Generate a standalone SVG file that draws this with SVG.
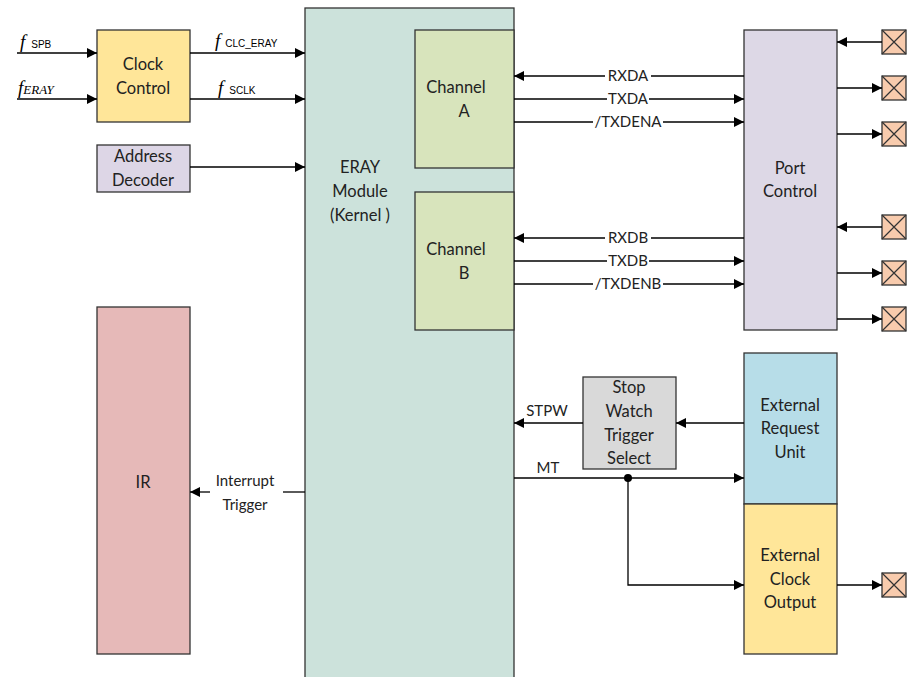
<svg xmlns="http://www.w3.org/2000/svg" width="912" height="677" viewBox="0 0 912 677">
<defs>
<marker id="ah" viewBox="0 0 10 10" refX="10" refY="5" markerWidth="10" markerHeight="10" markerUnits="userSpaceOnUse" orient="auto"><path d="M0,0 L10,5 L0,10 z" fill="#000"/></marker>
<g id="pin"><rect x="0" y="0" width="24" height="24" fill="#F8CBAD" stroke="#333" stroke-width="1.3"/><path d="M0,0 L24,24 M24,0 L0,24" stroke="#333" stroke-width="1.2"/></g>
</defs>
<style>
.box{stroke:#333;stroke-width:1.3}
.t{font-family:Lato,"Open Sans",sans-serif;font-size:16.5px;fill:#222;text-anchor:middle}
.l{font-family:Lato,"Open Sans",sans-serif;font-size:15px;fill:#222;text-anchor:middle}
.c{stroke:#000;stroke-width:1.3;fill:none}
.a{marker-end:url(#ah)}
.f{font-family:"Liberation Serif",serif;font-style:italic;font-size:19px;fill:#000}
.s{font-family:"Liberation Sans",sans-serif;font-size:10px;fill:#000}
.lbg{fill:#fff}
</style>
<rect width="912" height="677" fill="#fff"/>

<g id="eray"><rect class="box" x="305" y="8" width="209" height="680" fill="#CCE2DB"/>
<text class="t" x="360" y="173">ERAY</text><text class="t" x="360" y="197">Module</text><text class="t" x="360" y="221">(Kernel )</text></g>

<g id="chA"><rect class="box" x="415" y="30" width="99" height="138" fill="#D8E4BC"/>
<text class="t" x="456" y="93">Channel</text><text class="t" x="464" y="117">A</text></g>
<g id="chB"><rect class="box" x="415" y="192" width="99" height="138" fill="#D8E4BC"/>
<text class="t" x="456" y="255">Channel</text><text class="t" x="464" y="279">B</text></g>

<g id="clock"><rect class="box" x="97" y="30" width="93" height="92" fill="#FFE699"/>
<text class="t" x="143" y="70">Clock</text><text class="t" x="143" y="94">Control</text></g>
<g id="addr"><rect class="box" x="97" y="145" width="93" height="47" fill="#DDD6E6"/>
<text class="t" x="143" y="162">Address</text><text class="t" x="143" y="186">Decoder</text></g>

<g id="ir"><rect class="box" x="97" y="307" width="93" height="347" fill="#E6B9B8"/>
<text class="t" x="143" y="488">IR</text></g>

<g id="port"><rect class="box" x="744" y="30" width="93" height="300" fill="#DDD8E6"/>
<text class="t" x="790" y="174">Port</text><text class="t" x="790" y="197">Control</text></g>

<g id="eru"><rect class="box" x="744" y="353" width="93" height="151" fill="#B7DDE8"/>
<text class="t" x="790" y="411">External</text><text class="t" x="790" y="434">Request</text><text class="t" x="790" y="458">Unit</text></g>
<g id="eco"><rect class="box" x="744" y="504" width="93" height="150" fill="#FFE699"/>
<text class="t" x="790" y="561">External</text><text class="t" x="790" y="585">Clock</text><text class="t" x="790" y="608">Output</text></g>

<g id="stpw"><rect class="box" x="583" y="377" width="93" height="92" fill="#D9D9D9"/>
<text class="t" x="629" y="393">Stop</text><text class="t" x="629" y="417">Watch</text><text class="t" x="629" y="441">Trigger</text><text class="t" x="629" y="464">Select</text></g>

<g id="pins">
<use href="#pin" x="882" y="30"/><use href="#pin" x="882" y="76"/><use href="#pin" x="882" y="122"/>
<use href="#pin" x="882" y="215"/><use href="#pin" x="882" y="261"/><use href="#pin" x="882" y="307"/>
<use href="#pin" x="882" y="573"/>
</g>

<g id="connectors">
<path class="c a" d="M17,53 H97"/>
<path class="c a" d="M17,99 H97"/>
<path class="c a" d="M190,53 H305"/>
<path class="c a" d="M190,99 H305"/>
<path class="c a" d="M190,167 H305"/>
<path class="c a" d="M744,76 H514"/>
<path class="c a" d="M514,99 H744"/>
<path class="c a" d="M514,122 H744"/>
<path class="c a" d="M744,238 H514"/>
<path class="c a" d="M514,261 H744"/>
<path class="c a" d="M514,284 H744"/>
<path class="c a" d="M882,42 H837"/>
<path class="c a" d="M837,88 H882"/>
<path class="c a" d="M837,134 H882"/>
<path class="c a" d="M882,227 H837"/>
<path class="c a" d="M837,273 H882"/>
<path class="c a" d="M837,319 H882"/>
<path class="c a" d="M837,585 H882"/>
<path class="c a" d="M744,423 H676"/>
<path class="c a" d="M583,423 H514"/>
<path class="c a" d="M514,478 H744"/>
<path class="c a" d="M628,478 V585 H744"/>
<circle cx="628" cy="478" r="4" fill="#000"/>
<path class="c" d="M305,492 H283"/>
<path class="c a" d="M210,492 H190"/>
<rect class="lbg" x="605" y="67" width="46" height="18"/>
<text class="l" x="628" y="81">RXDA</text>
<rect class="lbg" x="607" y="90" width="42" height="18"/>
<text class="l" x="628" y="104">TXDA</text>
<rect class="lbg" x="593" y="113" width="70" height="18"/>
<text class="l" x="628" y="127">/TXDENA</text>
<rect class="lbg" x="605" y="229" width="46" height="18"/>
<text class="l" x="628" y="243">RXDB</text>
<rect class="lbg" x="607" y="252" width="42" height="18"/>
<text class="l" x="628" y="266">TXDB</text>
<rect class="lbg" x="593" y="275" width="70" height="18"/>
<text class="l" x="628" y="289">/TXDENB</text>
<text class="l" x="547" y="416">STPW</text>
<text class="l" x="548" y="473">MT</text>
<text class="l" x="245" y="486">Interrupt</text>
<text class="l" x="245" y="510">Trigger</text>
<text x="20" y="48"><tspan class="f">f</tspan><tspan class="s" dx="6">SPB</tspan></text>
<text x="18" y="94" class="f" font-size="18">f<tspan font-size="13">ERAY</tspan></text>
<text x="215" y="47"><tspan class="f">f</tspan><tspan class="s" font-size="11" dx="5">CLC_ERAY</tspan></text>
<text x="218" y="94"><tspan class="f">f</tspan><tspan class="s" font-size="11" dx="6">SCLK</tspan></text>
</g>
</svg>
